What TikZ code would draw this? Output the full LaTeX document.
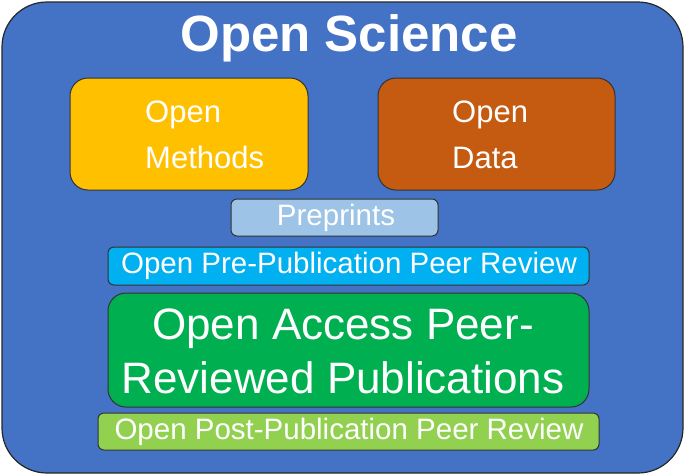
\documentclass[tikz,border=0pt]{standalone}
\usepackage{fontspec}
\setmainfont{Liberation Sans}
\begin{document}
\begin{tikzpicture}[x=1pt,y=-1pt,
  bx/.style={draw=black!80,line width=1pt,rounded corners=#1,text=white,align=center},
  bx/.default=6pt,
  sm/.style={text=white,font=\fontsize{29.5}{32}\selectfont}]
\useasboundingbox (0,0) rectangle (685,475);
\draw[fill={rgb,255:red,68;green,114;blue,196},draw=black!85,line width=1.2pt,rounded corners=45pt] (2,2) rectangle (683,473);
\node[text=white,font=\fontsize{51}{56}\selectfont\bfseries] (t) at (349,38) {Open Science};
\draw[bx=18pt,fill={rgb,255:red,255;green,192;blue,0}] (70,78) rectangle (308,190);
\node[text=white,align=left,anchor=west,inner sep=0pt,font=\fontsize{31}{46}\selectfont] (m) at (145,135) {Open\\Methods};
\draw[bx=18pt,fill={rgb,255:red,197;green,90;blue,17}] (378,78) rectangle (615,190);
\node[text=white,align=left,anchor=west,inner sep=0pt,font=\fontsize{31}{46}\selectfont] (d) at (452,135) {Open\\Data};
\draw[bx,fill={rgb,255:red,157;green,195;blue,230}] (231,199) rectangle (438,236);
\node[sm] (p) at (336,218) {Preprints};
\draw[bx,fill={rgb,255:red,0;green,176;blue,240}] (108,247) rectangle (589,285);
\node[sm] (pre) at (349,266) {Open Pre-Publication Peer Review};
\draw[bx=18pt,fill={rgb,255:red,0;green,176;blue,80}] (108,293) rectangle (589,407);
\node[text=white,align=center,font=\fontsize{44}{54}\selectfont] (oa) at (343,351) {Open Access Peer-\\Reviewed Publications};
\draw[bx,fill={rgb,255:red,146;green,208;blue,80}] (98,413) rectangle (599,450);
\node[sm] (post) at (349,432) {Open Post-Publication Peer Review};
\end{tikzpicture}
\end{document}
